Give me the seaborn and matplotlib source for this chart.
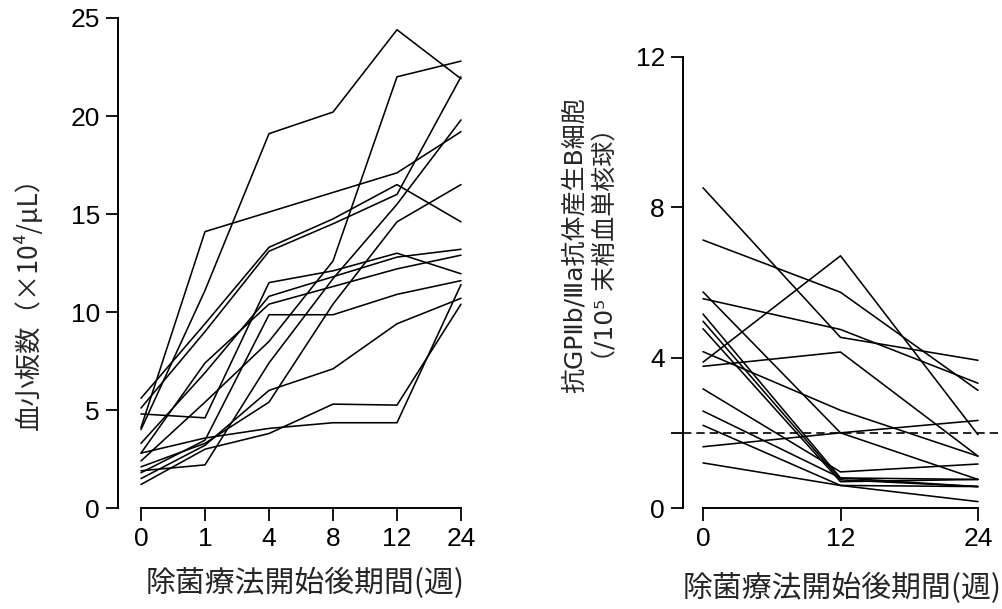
import numpy as np
import pandas as pd
import matplotlib
matplotlib.use("Agg")
import matplotlib.pyplot as plt
import seaborn as sns

sns.set_theme(style="white")
plt.rcParams['font.family'] = ['Liberation Sans', 'Noto Sans CJK JP', 'DejaVu Sans']
CJK = ['Noto Sans CJK JP', 'DejaVu Sans']
ROMAN = ['DejaVu Sans', 'Noto Sans CJK JP']

# ---------------- data: platelet counts (x10^4/uL) ----------------
weeks_left = ["0", "1", "4", "8", "12", "24"]
plt_A = [4.0, 11.1, 19.1, 20.2, 24.4, 21.9]
plt_B = [4.1, 14.1, 15.1, 16.1, 17.1, 19.2]
plt_C = [4.8, 4.6, 11.5, 12.1, 13.0, 11.95]
plt_E = [2.4, 5.4, 8.5, 12.6, 22.0, 22.8]
plt_G = [5.6, 9.4, 13.3, 14.75, 16.5, 14.6]
plt_I = [5.1, 9.0, 13.1, 14.5, 16.0, 22.0]
plt_K = [2.1, 3.3, 5.4, 10.4, 14.6, 16.5]
plt_M = [3.3, 6.9, 10.8, 11.8, 12.8, 13.2]
plt_O = [1.5, 3.2, 6.0, 7.1, 9.4, 10.7]
plt_P = [1.2, 3.0, 3.8, 5.3, 5.25, 10.4]
plt_Q = [2.8, 3.57, 4.06, 4.35, 4.35, 11.4]
plt_R = [2.8, 7.4, 10.4, 11.3, 12.2, 12.9]
plt_S = [1.8, 3.46, 9.86, 9.86, 10.9, 11.6]
plt_T = [1.9, 2.2, 7.4, 11.7, 15.5, 19.8]
platelet_series = {"A": plt_A, "B": plt_B, "C": plt_C, "E": plt_E, "G": plt_G,
                   "I": plt_I, "K": plt_K, "M": plt_M, "O": plt_O, "P": plt_P,
                   "Q": plt_Q, "R": plt_R, "S": plt_S, "T": plt_T}

# ---------------- data: anti-GPIIb/IIIa antibody-producing B cells ----------------
weeks_right = [0, 12, 24]
b01 = [8.52, 4.54, 3.93]
b02 = [7.13, 5.74, 3.13]
b03 = [5.57, 4.75, 3.32]
b04 = [5.75, 2.0, 0.76]
b05 = [5.16, 0.8, 0.76]
b06 = [4.97, 0.75, 0.57]
b07 = [4.77, 0.7, 0.76]
b08 = [4.16, 2.6, 1.38]
b09 = [3.88, 6.71, 1.95]
b10 = [3.77, 4.15, 1.38]
b11 = [3.17, 0.96, 1.17]
b12 = [2.58, 0.8, 0.57]
b13 = [2.2, 0.6, 0.57]
b14 = [1.63, 2.0, 2.33]
b15 = [1.2, 0.6, 0.17]
bcell_series = [b01, b02, b03, b04, b05, b06, b07, b08, b09, b10, b11, b12, b13, b14, b15]
threshold = 2.0

rows = []
for pid, vals in platelet_series.items():
    for i, v in enumerate(vals):
        rows.append({"patient": pid, "pos": i, "value": v})
df_left = pd.DataFrame(rows)

rows = []
for k, vals in enumerate(bcell_series):
    for w, v in zip(weeks_right, vals):
        rows.append({"patient": k, "week": w, "value": v})
df_right = pd.DataFrame(rows)

W, H = 1003, 609
fig = plt.figure(figsize=(W / 100, H / 100), dpi=100)
fig.patch.set_facecolor("white")

def frac_rect(x0, y0, x1, y1):
    return [x0 / W, 1 - y1 / H, (x1 - x0) / W, (y1 - y0) / H]

ax1 = fig.add_axes(frac_rect(118, 18, 470, 508))
ax2 = fig.add_axes(frac_rect(683, 57, 1003, 508))

lw = 1.15
sns.lineplot(data=df_left, x="pos", y="value", units="patient", estimator=None,
             color="black", linewidth=lw, ax=ax1, legend=False)
sns.lineplot(data=df_right, x="week", y="value", units="patient", estimator=None,
             color="black", linewidth=lw, ax=ax2, legend=False)
ax2.axhline(threshold, color="black", linestyle=(0, (5, 3)), linewidth=1.2, clip_on=False)

for ax in (ax1, ax2):
    ax.set_facecolor("white")
    ax.grid(False)
    for s in ("top", "right"):
        ax.spines[s].set_visible(False)
    for s in ("left", "bottom"):
        ax.spines[s].set_color("black")
        ax.spines[s].set_linewidth(1.4)
    ax.tick_params(axis="both", direction="out", length=9, width=1.3, color="black",
                   labelsize=19, labelcolor="black", left=True, bottom=True)
    ax.tick_params(axis="y", pad=4)
    ax.tick_params(axis="x", pad=5)
    ax.set_xlabel("")
    ax.set_ylabel("")

# left axes
ax1.set_xlim(-23 / 64, (470 - 141) / 64)
ax1.set_ylim(0, 25)
ax1.set_xticks(range(len(weeks_left)))
ax1.set_xticklabels(weeks_left)
ax1.set_yticks([0, 5, 10, 15, 20, 25])
ax1.spines["bottom"].set_bounds(0, 5)
ax1.spines["left"].set_bounds(0, 25)

# right axes
px12 = 137.5 / 12
ax2.set_xlim(-20 / px12, (1003 - 703) / px12)
ax2.set_ylim(0, 12)
ax2.set_xticks(weeks_right)
ax2.set_xticklabels([str(w) for w in weeks_right])
ax2.set_yticks([0, 2, 4, 8, 12])
ax2.set_yticklabels(["0", "", "4", "8", "12"])
ax2.spines["bottom"].set_bounds(0, 24)
ax2.spines["left"].set_bounds(0, 12)

xlabel = "除菌療法開始後期間(週)"
fig.text(305 / W, 1 - 583 / H, xlabel, ha="center", va="center", fontsize=21.5, family=CJK)
fig.text(842 / W, 1 - 588 / H, xlabel, ha="center", va="center", fontsize=21.5, family=CJK)

fig.text(28 / W, 1 - 297 / H, "血小板数（×10⁴/μL）", rotation=90, ha="center", va="center",
         fontsize=19, family=CJK)
fig.text(590 / W, 1 - 245 / H, "抗GPⅡb/Ⅲa抗体産生B細胞\n（/10⁵ 末梢血単核球）", rotation=90,
         ha="center", va="center", fontsize=18, family=ROMAN, linespacing=1.35,
         multialignment="center")

fig.savefig("out.png", dpi=100, facecolor="white")
